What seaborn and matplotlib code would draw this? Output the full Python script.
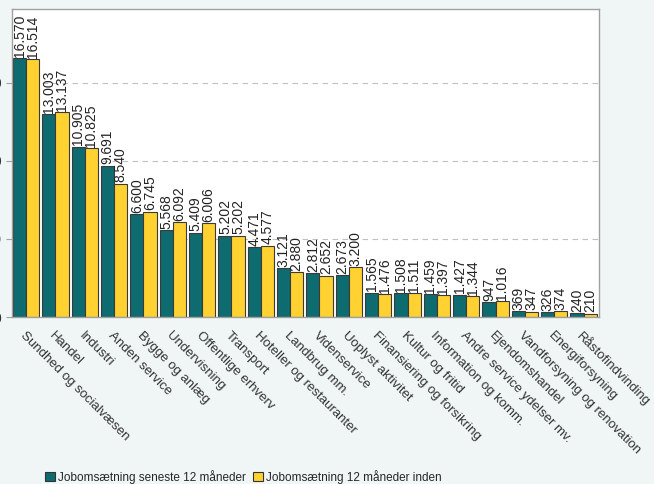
import matplotlib
matplotlib.use('Agg')
import matplotlib.pyplot as plt
import seaborn as sns
import pandas as pd

# Data
brancher = [
    "Sundhed og socialvæsen", "Handel", "Industri", "Anden service",
    "Bygge og anlæg", "Undervisning", "Offentlige erhverv", "Transport",
    "Hoteller og restauranter", "Landbrug mm.", "Videnservice",
    "Uoplyst aktivitet", "Finansiering og forsikring", "Kultur og fritid",
    "Information og komm.", "Andre service ydelser mv.", "Ejendomshandel",
    "Vandforsyning og renovation", "Energiforsyning", "Råstofindvinding",
]
seneste = [16570, 13003, 10905, 9691, 6600, 5568, 5409, 5202, 4471, 3121,
           2812, 2673, 1565, 1508, 1459, 1427, 947, 369, 326, 240]
inden = [16514, 13137, 10825, 8540, 6745, 6092, 6006, 5202, 4577, 2880,
         2652, 3200, 1476, 1511, 1397, 1344, 1016, 347, 374, 210]
serier = ["Jobomsætning seneste 12 måneder", "Jobomsætning 12 måneder inden"]

df = pd.DataFrame({
    "branche": brancher * 2,
    "serie": [serier[0]] * len(brancher) + [serier[1]] * len(brancher),
    "antal": seneste + inden,
})

sns.set_style("white")
plt.rcParams['font.family'] = ['Liberation Sans', 'DejaVu Sans']

bg = '#f0f6f6'
fig = plt.figure(figsize=(6.54, 4.84), dpi=100, facecolor=bg)
ax = fig.add_axes([0.018, 0.345, 0.898, 0.636])
ax.set_facecolor('white')

sns.barplot(data=df, x="branche", y="antal", hue="serie", ax=ax,
            palette=['#0e6b70', '#ffd232'], saturation=1, width=0.89,
            edgecolor='#3a3a3a', linewidth=0.8, legend=True)

for cont in ax.containers:
    labels = [f"{int(v):,}".replace(",", ".") for v in cont.datavalues]
    ax.bar_label(cont, labels=labels, rotation=90, padding=1,
                 fontsize=10, color='#222222')

ax.set_xlim(-0.49, 19.53)
ax.set_ylim(0, 19720)
ax.set_yticks([0, 5000, 10000, 15000])
ax.yaxis.grid(True, linestyle=(0, (5, 4)), color='#c0c0c0', linewidth=0.8)
ax.set_axisbelow(True)
ax.set_xlabel("")
ax.set_ylabel("")

for s in ax.spines.values():
    s.set_color('#a0a0a0')
    s.set_linewidth(1.0)

ax.tick_params(axis='x', length=5, color='#a0a0a0', pad=4, labelsize=9.5,
               labelcolor='#333333')
ax.tick_params(axis='y', length=4, color='#a0a0a0', left=True,
               labelsize=10, labelcolor='#333333')
ax.set_xticks(range(len(brancher)))
ax.set_xticklabels(brancher, rotation=-45, ha='left', va='top',
                   rotation_mode='anchor')

leg = ax.legend(loc='center left', bbox_to_anchor=(0.06, 1 - 477 / 484),
                bbox_transform=fig.transFigure, ncol=2, frameon=False,
                fontsize=8.5, handlelength=0.8, handleheight=0.8,
                handletextpad=0.3, columnspacing=0.6, borderpad=0)
for h in leg.legend_handles:
    h.set_edgecolor('#333333')

fig.savefig("out.png", dpi=100, facecolor=bg)
